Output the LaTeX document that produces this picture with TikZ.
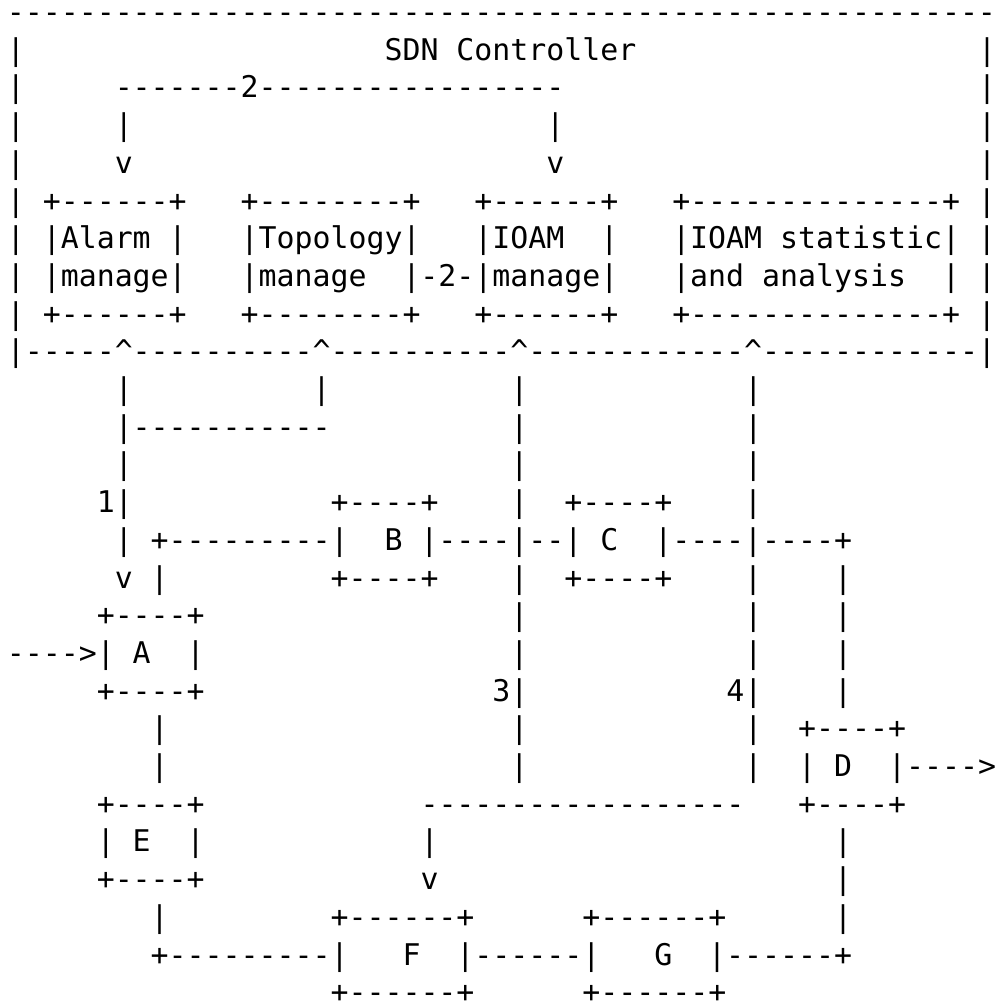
\documentclass[tikz,border=0pt]{standalone}
\usepackage{fontspec}
\setmonofont{DejaVu Sans Mono}
\newcommand{\skipcols}[1]{\hspace*{\dimexpr#1\fontcharwd\font`0\relax}}
\newcommand{\asciiup}{\textasciicircum}
\tikzset{txtrow/.style={anchor=base west, inner sep=0pt, font=\fontsize{17pt}{21pt}\selectfont\ttfamily}}

\begin{document}
\begin{tikzpicture}
  \path[fill=white, use as bounding box] (0,0) rectangle (19.92,-20.14);
  % controller block
  \node[txtrow] (row1) at (0.13,-0.450) {-------------------------------------------------------};
  \node[txtrow] (row2) at (0.13,-1.204) {|\skipcols{20}SDN Controller\skipcols{19}|};
  \node[txtrow] (row3) at (0.13,-1.958) {|\skipcols{5}-------2-----------------\skipcols{23}|};
  \node[txtrow] (row4) at (0.13,-2.712) {|\skipcols{5}|\skipcols{23}|\skipcols{23}|};
  \node[txtrow] (row5) at (0.13,-3.466) {|\skipcols{5}v\skipcols{23}v\skipcols{23}|};
  \node[txtrow] (row6) at (0.13,-4.220) {|\skipcols{1}+------+\skipcols{3}+--------+\skipcols{3}+------+\skipcols{3}+--------------+\skipcols{1}|};
  \node[txtrow] (row7) at (0.13,-4.974) {|\skipcols{1}|Alarm\skipcols{1}|\skipcols{3}|Topology|\skipcols{3}|IOAM\skipcols{2}|\skipcols{3}|IOAM\skipcols{1}statistic|\skipcols{1}|};
  \node[txtrow] (row8) at (0.13,-5.728) {|\skipcols{1}|manage|\skipcols{3}|manage\skipcols{2}|-2-|manage|\skipcols{3}|and\skipcols{1}analysis\skipcols{2}|\skipcols{1}|};
  \node[txtrow] (row9) at (0.13,-6.482) {|\skipcols{1}+------+\skipcols{3}+--------+\skipcols{3}+------+\skipcols{3}+--------------+\skipcols{1}|};
  \node[txtrow] (row10) at (0.13,-7.236) {|-----\asciiup----------\asciiup----------\asciiup------------\asciiup------------|};
  % network below
  \node[txtrow] (row11) at (0.13,-7.990) {\skipcols{6}|\skipcols{10}|\skipcols{10}|\skipcols{12}|};
  \node[txtrow] (row12) at (0.13,-8.744) {\skipcols{6}|-----------\skipcols{10}|\skipcols{12}|};
  \node[txtrow] (row13) at (0.13,-9.498) {\skipcols{6}|\skipcols{21}|\skipcols{12}|};
  \node[txtrow] (row14) at (0.13,-10.252) {\skipcols{5}1|\skipcols{11}+----+\skipcols{4}|\skipcols{2}+----+\skipcols{4}|};
  \node[txtrow] (row15) at (0.13,-11.006) {\skipcols{6}|\skipcols{1}+---------|\skipcols{2}B\skipcols{1}|----|--|\skipcols{1}C\skipcols{2}|----|----+};
  \node[txtrow] (row16) at (0.13,-11.760) {\skipcols{6}v\skipcols{1}|\skipcols{9}+----+\skipcols{4}|\skipcols{2}+----+\skipcols{4}|\skipcols{4}|};
  \node[txtrow] (row17) at (0.13,-12.514) {\skipcols{5}+----+\skipcols{17}|\skipcols{12}|\skipcols{4}|};
  \node[txtrow] (row18) at (0.13,-13.268) {---->|\skipcols{1}A\skipcols{2}|\skipcols{17}|\skipcols{12}|\skipcols{4}|};
  \node[txtrow] (row19) at (0.13,-14.022) {\skipcols{5}+----+\skipcols{16}3|\skipcols{11}4|\skipcols{4}|};
  \node[txtrow] (row20) at (0.13,-14.776) {\skipcols{8}|\skipcols{19}|\skipcols{12}|\skipcols{2}+----+};
  \node[txtrow] (row21) at (0.13,-15.530) {\skipcols{8}|\skipcols{19}|\skipcols{12}|\skipcols{2}|\skipcols{1}D\skipcols{2}|---->};
  \node[txtrow] (row22) at (0.13,-16.284) {\skipcols{5}+----+\skipcols{12}------------------\skipcols{3}+----+};
  \node[txtrow] (row23) at (0.13,-17.038) {\skipcols{5}|\skipcols{1}E\skipcols{2}|\skipcols{12}|\skipcols{22}|};
  \node[txtrow] (row24) at (0.13,-17.792) {\skipcols{5}+----+\skipcols{12}v\skipcols{22}|};
  \node[txtrow] (row25) at (0.13,-18.546) {\skipcols{8}|\skipcols{9}+------+\skipcols{6}+------+\skipcols{6}|};
  \node[txtrow] (row26) at (0.13,-19.300) {\skipcols{8}+---------|\skipcols{3}F\skipcols{2}|------|\skipcols{3}G\skipcols{2}|------+};
  \node[txtrow] (row27) at (0.13,-20.054) {\skipcols{18}+------+\skipcols{6}+------+};
\end{tikzpicture}
\end{document}
